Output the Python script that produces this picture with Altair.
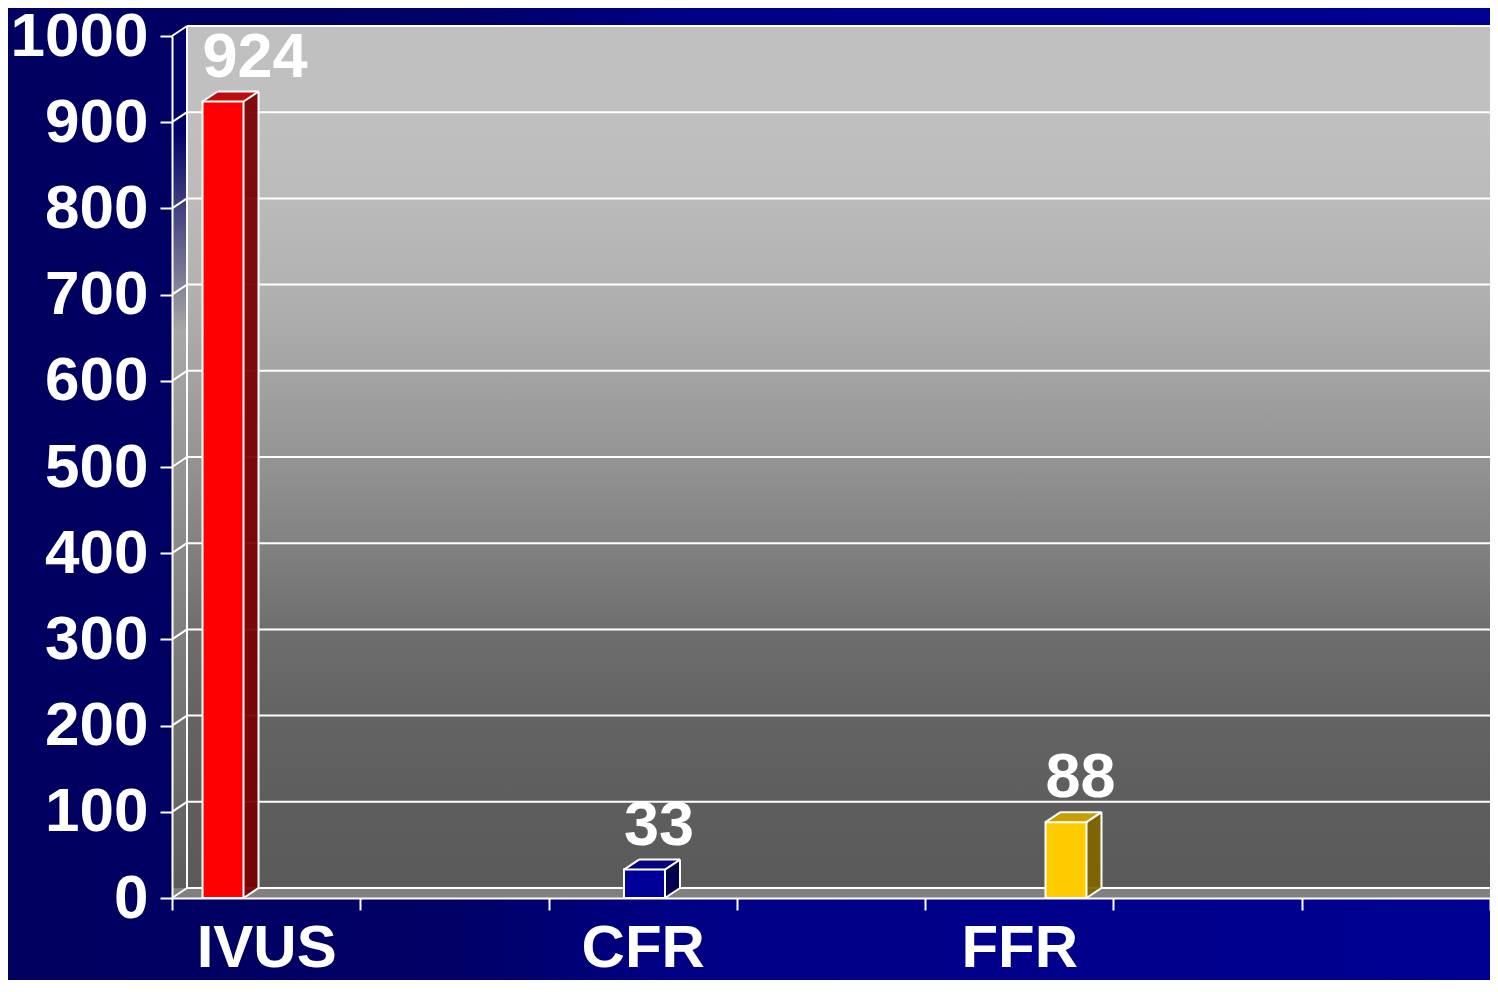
import altair as alt
import pandas as pd

# ---------------- data ----------------
categories = ["IVUS", "CFR", "FFR"]
values = [924, 33, 88]
front_colors = ["#ff0000", "#000099", "#ffcc00"]
top_colors = ["#c00000", "#000080", "#c89f00"]
side_colors = ["#7a0000", "#00004d", "#806600"]
axis_slots = ["IVUS", "gap1", "CFR", "gap2", "FFR", "gap3", "gap4", "end"]
y_ticks = list(range(0, 1001, 100))

# ---------------- layout / style ----------------
W, H = 1318, 862
DX, DY, BW = 15, 10, 41
HB = BW / 2
FONT = "Liberation Sans"
PAD = {"left": 164, "top": 28, "right": 0, "bottom": 82}

bars_df = pd.DataFrame({"cat": categories, "value": values})
ticks_df = pd.DataFrame({"tick": y_ticks})
slots_df = pd.DataFrame({"slot": axis_slots})
one_df = pd.DataFrame({"k": [0]})

y_scale = alt.Scale(domain=[0, 1000], nice=False, zero=True)
y_axis = alt.Axis(values=y_ticks, format="d", title=None, grid=False, tickSize=12, tickWidth=2,
                  tickColor="white", domainColor="white", domainWidth=2,
                  labelColor="white", labelFont=FONT, labelFontSize=62,
                  labelFontWeight="bold", labelPadding=12, zindex=1)


def Y(field):
    return alt.Y(f"{field}:Q", scale=y_scale, axis=y_axis)


def Y0():
    return alt.YDatum(0, scale=y_scale, axis=y_axis)


def grad_v(stops):
    return alt.Gradient(gradient="linear", x1=0, x2=0, y1=0, y2=1,
                        stops=[alt.GradientStop(offset=o, color=c) for o, c in stops])


def grad_h(stops):
    return alt.Gradient(gradient="linear", x1=0, x2=1, y1=0, y2=0,
                        stops=[alt.GradientStop(offset=o, color=c) for o, c in stops])


wall_stops = [(0, "#c0c0c0"), (0.1, "#c0c0c0"), (0.2, "#bbbbbb"), (0.3, "#b2b2b2"),
              (0.4, "#a4a4a4"), (0.5, "#949494"), (0.6, "#828282"), (0.7, "#6e6e6e"),
              (0.8, "#636363"), (0.9, "#5e5e5e"), (1, "#5a5a5a")]
left_wall_stops = [(0, "#000066"), (0.12, "#000066"), (0.35, "#a8a8a8"), (1, "#5a5a5a")]
bg_stops = [(0, "#000060"), (0.3, "#000066"), (0.45, "#000085"), (1, "#000092")]

# ---------------- background & walls ----------------
bg = alt.Chart(one_df).mark_rect(fill=grad_h(bg_stops)).encode(
    x=alt.value(-PAD["left"]), x2=alt.value(W + PAD["right"]),
    y=alt.value(-PAD["top"]), y2=alt.value(H + PAD["bottom"]))

left_wall = alt.Chart(one_df).mark_rect(fill=grad_v(left_wall_stops), y2Offset=-DY).encode(
    x=alt.value(0), x2=alt.value(DX), y=Y0(), y2=alt.Y2Datum(1000))

back_wall = alt.Chart(one_df).mark_rect(fill=grad_v(wall_stops), yOffset=-DY, y2Offset=-DY).encode(
    x=alt.value(DX), x2=alt.value(W + DX + 20), y=Y0(), y2=alt.Y2Datum(1000))

floor = alt.Chart(one_df).mark_rect(fill="#808080", y2Offset=-DY).encode(
    x=alt.value(0), x2=alt.value(W + DX + 20), y=Y0(), y2=alt.Y2Datum(0))

grid = alt.Chart(ticks_df).mark_rule(color="white", strokeWidth=2, yOffset=-DY).encode(
    x=alt.value(DX), x2=alt.value(W + DX + 20), y=Y("tick"))

connectors = alt.Chart(ticks_df).mark_rule(color="white", strokeWidth=2, y2Offset=-DY).encode(
    x=alt.value(0), x2=alt.value(DX), y=Y("tick"), y2=alt.Y2("tick:Q"))

back_left = alt.Chart(one_df).mark_rule(color="white", strokeWidth=2, yOffset=-DY, y2Offset=-DY).encode(
    x=alt.value(DX), y=Y0(), y2=alt.Y2Datum(1000))

# ---------------- x axis (tick slots) ----------------
label_test = "indexof([" + ",".join(f"'{c}'" for c in categories) + "], datum.value) >= 0"
x_axis = alt.Axis(title=None, labelExpr=f"{label_test} ? datum.label : ''",
                  labelOffset=W / (len(axis_slots) - 1) / 2, labelAngle=0,
                  tickSize=12, tickWidth=2, tickColor="white", domainColor="white",
                  domainWidth=2, labelColor="white", labelFont=FONT, labelFontSize=60,
                  labelFontWeight="bold", labelPadding=9, labelFlush=False,
                  labelOverlap=False, labelBound=False, zindex=1)
axis_layer = alt.Chart(slots_df).mark_point(opacity=0).encode(
    x=alt.X("slot:N", sort=None,
            scale=alt.Scale(type="point", domain=axis_slots, padding=0), axis=x_axis),
    y=Y0())

# ---------------- 3D bars ----------------
bx = alt.X("cat:N", sort=None,
           scale=alt.Scale(type="point", domain=categories, padding=0.5635, align=0.1074),
           axis=None)


def col(rng):
    return alt.Color("cat:N", scale=alt.Scale(domain=categories, range=rng), legend=None)


base = alt.Chart(bars_df)
bar_layers = []

NS = 15
for k in range(NS):
    t = (k + 0.5) / NS
    bar_layers.append(base.mark_rule(strokeWidth=1.5, xOffset=HB + DX * t,
                                     yOffset=-DY * t, y2Offset=-DY * t).encode(
        x=bx, y=Y("value"), y2=alt.Y2Datum(0), color=col(side_colors)))

NT = 10
for j in range(NT):
    t = (j + 0.5) / NT
    bar_layers.append(base.mark_rule(strokeWidth=1.5, xOffset=-HB + DX * t,
                                     x2Offset=HB + DX * t, yOffset=-DY * t).encode(
        x=bx, x2=alt.X2("cat:N"), y=Y("value"), color=col(top_colors)))

bar_layers.append(base.mark_bar(width=BW, stroke="white", strokeWidth=2).encode(
    x=bx, y=Y("value"), y2=alt.Y2Datum(0),
    fill=alt.Fill("cat:N", scale=alt.Scale(domain=categories, range=front_colors), legend=None)))

edge = dict(color="white", strokeWidth=2)
# top-left diagonal
bar_layers.append(base.mark_rule(xOffset=-HB, x2Offset=-HB + DX, y2Offset=-DY, **edge).encode(
    x=bx, x2=alt.X2("cat:N"), y=Y("value"), y2=alt.Y2("value:Q")))
# top-right diagonal
bar_layers.append(base.mark_rule(xOffset=HB, x2Offset=HB + DX, y2Offset=-DY, **edge).encode(
    x=bx, x2=alt.X2("cat:N"), y=Y("value"), y2=alt.Y2("value:Q")))
# back top edge
bar_layers.append(base.mark_rule(xOffset=-HB + DX, x2Offset=HB + DX, yOffset=-DY, **edge).encode(
    x=bx, x2=alt.X2("cat:N"), y=Y("value")))
# back right edge
bar_layers.append(base.mark_rule(xOffset=HB + DX, yOffset=-DY, y2Offset=-DY, **edge).encode(
    x=bx, y=Y("value"), y2=alt.Y2Datum(0)))
# bottom-right diagonal
bar_layers.append(base.mark_rule(xOffset=HB, x2Offset=HB + DX, y2Offset=-DY, **edge).encode(
    x=bx, x2=alt.X2("cat:N"), y=Y0(), y2=alt.Y2Datum(0)))

# value labels
bar_layers.append(base.mark_text(align="left", baseline="alphabetic", dx=-HB, dy=-25,
                                 font=FONT, fontSize=63, fontWeight="bold", color="white").encode(
    x=bx, y=Y("value"), text=alt.Text("value:Q")))

bars = alt.layer(*bar_layers).resolve_scale(color="independent", fill="independent")

chart = alt.layer(bg, left_wall, back_wall, floor, grid, connectors, back_left,
                  axis_layer, bars).resolve_scale(x="independent").properties(
    width=W, height=H, autosize=alt.AutoSizeParams(type="none"), padding=PAD,
    background="#000066"
).configure_view(stroke=None)

chart.save("out.html", embed_options={"renderer": "svg", "actions": False})
